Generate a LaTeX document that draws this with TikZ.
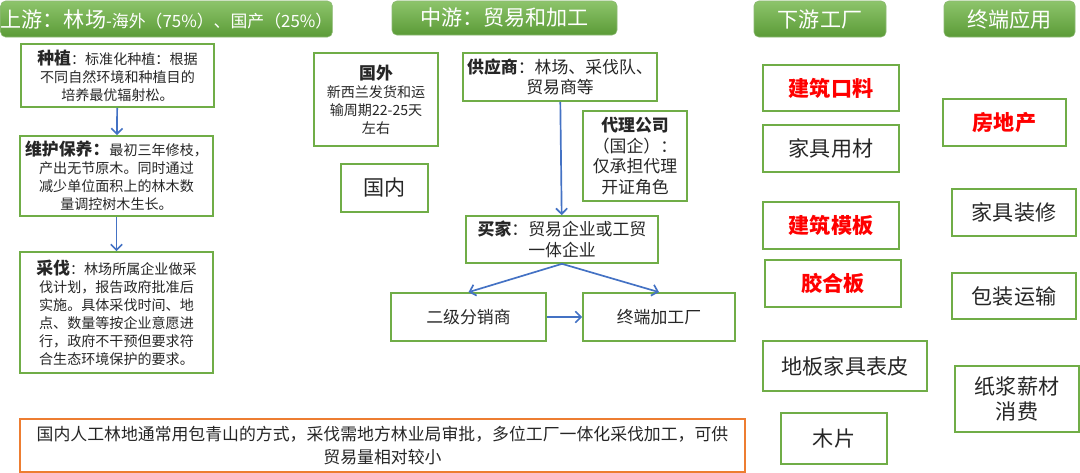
\documentclass[tikz,border=0pt]{standalone}
\usepackage{fontspec}
\setmainfont{Noto Sans CJK SC}
\usetikzlibrary{arrows.meta}
\definecolor{boxgreen}{HTML}{70AD47}
\definecolor{headtop}{HTML}{8DC46B}
\definecolor{headbot}{HTML}{5B9B37}
\definecolor{linkblue}{HTML}{4472C4}
\definecolor{noteorange}{HTML}{ED7D31}
\definecolor{textgray}{HTML}{262626}
\begin{document}
\begin{tikzpicture}[x=0.25mm, y=-0.25mm,
    head/.style ={rounded corners=1.2mm, top color=headtop, bottom color=headbot, draw=headbot!70, text=white, inner sep=0pt, font=\fontsize{15}{18}\selectfont},
    box/.style ={draw=boxgreen, line width=1.2pt, align=center, inner sep=1pt, text=textgray},
    txtS/.style ={font=\fontsize{10}{12.8}\selectfont},
    txtM/.style ={font=\fontsize{12}{14.6}\selectfont},
    txtL/.style ={font=\fontsize{15}{18}\selectfont},
    hot/.style ={text=red, font=\bfseries\fontsize{15}{18}\selectfont},
    link/.style ={draw=linkblue, line width=1.2pt, -{Straight Barb[length=4pt,width=8pt]}}]
   \useasboundingbox (0,0) rectangle (1080,473);
   \node[head, minimum width=82.25mm, minimum height=9mm] (H1) at (166.5,19) {上游：林场{\fontsize{12}{14}\selectfont -海外（75\%）、国产（25\%）}};
   \node[head, minimum width=56.25mm, minimum height=8.5mm] (H2) at (504.5,18) {中游：贸易和加工};
   \node[head, minimum width=33mm, minimum height=9mm] (H3) at (820,19) {下游工厂};
   \node[head, minimum width=32.75mm, minimum height=9mm] (H4) at (1009.5,19) {终端应用};
   \node[box, txtS, minimum width=48.25mm, minimum height=15.75mm] (U1) at (117.5,75.5) {{\fontsize{12}{12.8}\selectfont\bfseries 种植}：标准化种植：根据\\不同自然环境和种植目的\\培养最优辐射松。};
   \node[box, txtS, minimum width=48.25mm, minimum height=20mm] (U2) at (116.5,176) {{\fontsize{12}{12.8}\selectfont\bfseries 维护保养：}最初三年修枝，\\产出无节原木。同时通过\\减少单位面积上的林木数\\量调控树木生长。};
   \node[box, txtS, minimum width=48.25mm, minimum height=30.25mm] (U3) at (116.5,312.5) {{\fontsize{12}{12.8}\selectfont\bfseries 采伐}：林场所属企业做采\\伐计划，报告政府批准后\\实施。具体采伐时间、地\\点、数量等按企业意愿进\\行，政府不干预但要求符\\合生态环境保护的要求。};
   \node[box, txtS, minimum width=31mm, minimum height=23.25mm] (M1) at (376,99.5) {{\fontsize{12}{12.8}\selectfont\bfseries 国外}\\新西兰发货和运\\输周期22-25天\\左右};
   \node[box, txtL, minimum width=21.75mm, minimum height=12mm] (M2) at (384.5,188) {国内};
   \node[box, txtM, minimum width=48.5mm, minimum height=12mm] (M3) at (560,77) {\textbf{供应商}：林场、采伐队、\\贸易商等};
   \node[box, txtM, minimum width=26mm, minimum height=22.5mm] (M4) at (635,156) {\textbf{代理公司}\\（国企）：\\仅承担代理\\开证角色};
   \node[box, txtM, minimum width=48mm, minimum height=11.75mm] (M5) at (562,239.5) {\textbf{买家}：贸易企业或工贸\\一体企业};
   \node[box, txtM, minimum width=38.75mm, minimum height=12mm] (M6) at (468.5,317) {二级分销商};
   \node[box, txtM, minimum width=38mm, minimum height=12mm] (M7) at (659,317) {终端加工厂};
   \node[draw=noteorange, line width=1.2pt, align=center, text=textgray, font=\fontsize{12}{16}\selectfont, minimum width=181.25mm, minimum height=13.25mm] (N) at (382.5,445.5) {国内人工林地通常用包青山的方式，采伐需地方林业局审批，多位工厂一体化采伐加工，可供\\贸易量相对较小};
   \node[box, hot, minimum width=34mm, minimum height=11.5mm] (D1) at (831,88) {建筑口料};
   \node[box, txtL, minimum width=34mm, minimum height=11.75mm] (D2) at (831,148.5) {家具用材};
   \node[box, hot, minimum width=34mm, minimum height=11.75mm] (D3) at (831,225.5) {建筑模板};
   \node[box, hot, minimum width=34mm, minimum height=11.75mm] (D4) at (833,283.5) {胶合板};
   \node[box, txtL, minimum width=41mm, minimum height=12.5mm] (D5) at (845,366) {地板家具表皮};
   \node[box, txtL, minimum width=26.5mm, minimum height=12.75mm] (D6) at (834,438.5) {木片};
   \node[box, hot, minimum width=30.75mm, minimum height=11.75mm] (E1) at (1004.5,122.5) {房地产};
   \node[box, txtL, minimum width=31mm, minimum height=11.75mm] (E2) at (1014,212.5) {家具装修};
   \node[box, txtL, minimum width=31mm, minimum height=11.5mm] (E3) at (1014,296) {包装运输};
   \node[box, txtL, minimum width=31mm, minimum height=16.5mm] (E4) at (1017,399) {纸浆薪材\\消费};
   \draw[link] (U1) to (U2);
   \draw[link] (U2) to (U3);
   \draw[link] (M3) to (M5);
   \draw[link] (M5.south) to (M6.north);
   \draw[link] (M5.south) to (M7.north);
   \draw[link] (M6) to (M7);
 \end{tikzpicture}
\end{document}
